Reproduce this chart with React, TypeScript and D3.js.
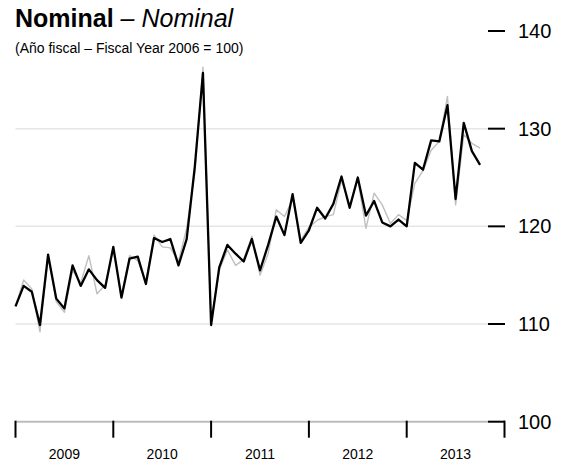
import React from 'react';
import * as d3 from 'd3';

// monthly index, Jan 2009 = 0
const nominal = [
  111.8, 113.9, 113.3, 109.9, 117.1, 112.6, 111.6, 116.0, 113.9, 115.6, 114.5, 113.7,
  117.9, 112.7, 116.7, 116.9, 114.1, 118.8, 118.4, 118.7, 116.0, 118.7, 126.1, 135.7,
  109.9, 115.8, 118.1, 117.2, 116.4, 118.7, 115.5, 118.1, 121.0, 119.1, 123.3, 118.3,
  119.6, 121.9, 120.8, 122.3, 125.1, 121.9, 125.0, 121.1, 122.6, 120.4, 120.0, 120.7,
  120.0, 126.5, 125.8, 128.8, 128.7, 132.4, 122.8, 130.6, 127.7, 126.3,
];

const adjusted = [
  111.8, 114.5, 113.6, 109.2, 116.9, 112.3, 111.2, 115.5, 114.2, 117.0, 113.1, 114.0,
  117.7, 112.9, 117.0, 116.5, 114.3, 119.1, 117.9, 117.8, 116.4, 119.8, 125.5, 136.3,
  110.2, 115.5, 117.6, 116.0, 116.6, 119.0, 115.0, 117.2, 121.7, 121.0, 122.8, 118.6,
  119.9, 120.6, 121.0, 121.2, 124.7, 122.2, 124.8, 119.8, 123.4, 122.2, 120.3, 121.2,
  120.6, 124.4, 125.7, 127.8, 128.7, 133.3, 122.2, 129.4, 128.5, 128.0,
];

const years = ['2009', '2010', '2011', '2012', '2013'];
const yTicks = [100, 110, 120, 130, 140];
const gridTicks = [110, 120, 130];

const W = 561;
const H = 461;

export default function App() {
  const x = d3.scaleLinear().domain([0, 60]).range([15.5, 504.5]);
  const y = d3.scaleLinear().domain([100, 140]).range([421.7, 31]);
  const axisRight = 488;

  const line = d3
    .line<number>()
    .x((_, i) => x(i))
    .y((d) => y(d));

  const bounds = d3.range(0, years.length + 1).map((i) => i * 12);

  return (
    <svg
      width={W}
      height={H}
      style={{ position: 'absolute', left: 0, top: 0, background: '#fff' }}
      fontFamily="'Liberation Sans', Arial, sans-serif"
    >
      <text x={15} y={27} fontSize={25}>
        <tspan fontWeight="bold">Nominal</tspan>
        <tspan fontStyle="italic"> – Nominal</tspan>
      </text>
      <text x={15} y={53} fontSize={14}>
        (Año fiscal – Fiscal Year 2006 = 100)
      </text>

      {/* grid */}
      {gridTicks.map((t) => (
        <line key={t} x1={x(0)} x2={axisRight} y1={y(t)} y2={y(t)} stroke="#e6e6e6" strokeWidth={1.5} />
      ))}

      {/* x axis */}
      <line x1={x(0)} x2={axisRight} y1={y(100)} y2={y(100)} stroke="#bdbdbd" strokeWidth={2} />
      {bounds.map((b) => (
        <line key={b} x1={x(b)} x2={x(b)} y1={y(100) - 1} y2={y(100) + 16} stroke="#000" strokeWidth={2} />
      ))}
      {years.map((yr, i) => (
        <text key={yr} x={x(i * 12 + 6)} y={459} fontSize={14} textAnchor="middle">
          {yr}
        </text>
      ))}

      {/* y axis */}
      {yTicks.map((t) => (
        <g key={t}>
          <line x1={axisRight} x2={axisRight + 17} y1={y(t)} y2={y(t)} stroke="#000" strokeWidth={2} />
          <text x={axisRight + 30} y={y(t)} dy="0.35em" fontSize={20}>
            {t}
          </text>
        </g>
      ))}

      <path d={line(adjusted) ?? ''} fill="none" stroke="#bfbfbf" strokeWidth={1.4} strokeLinejoin="round" />
      <path d={line(nominal) ?? ''} fill="none" stroke="#000" strokeWidth={2.3} strokeLinejoin="round" />
    </svg>
  );
}
